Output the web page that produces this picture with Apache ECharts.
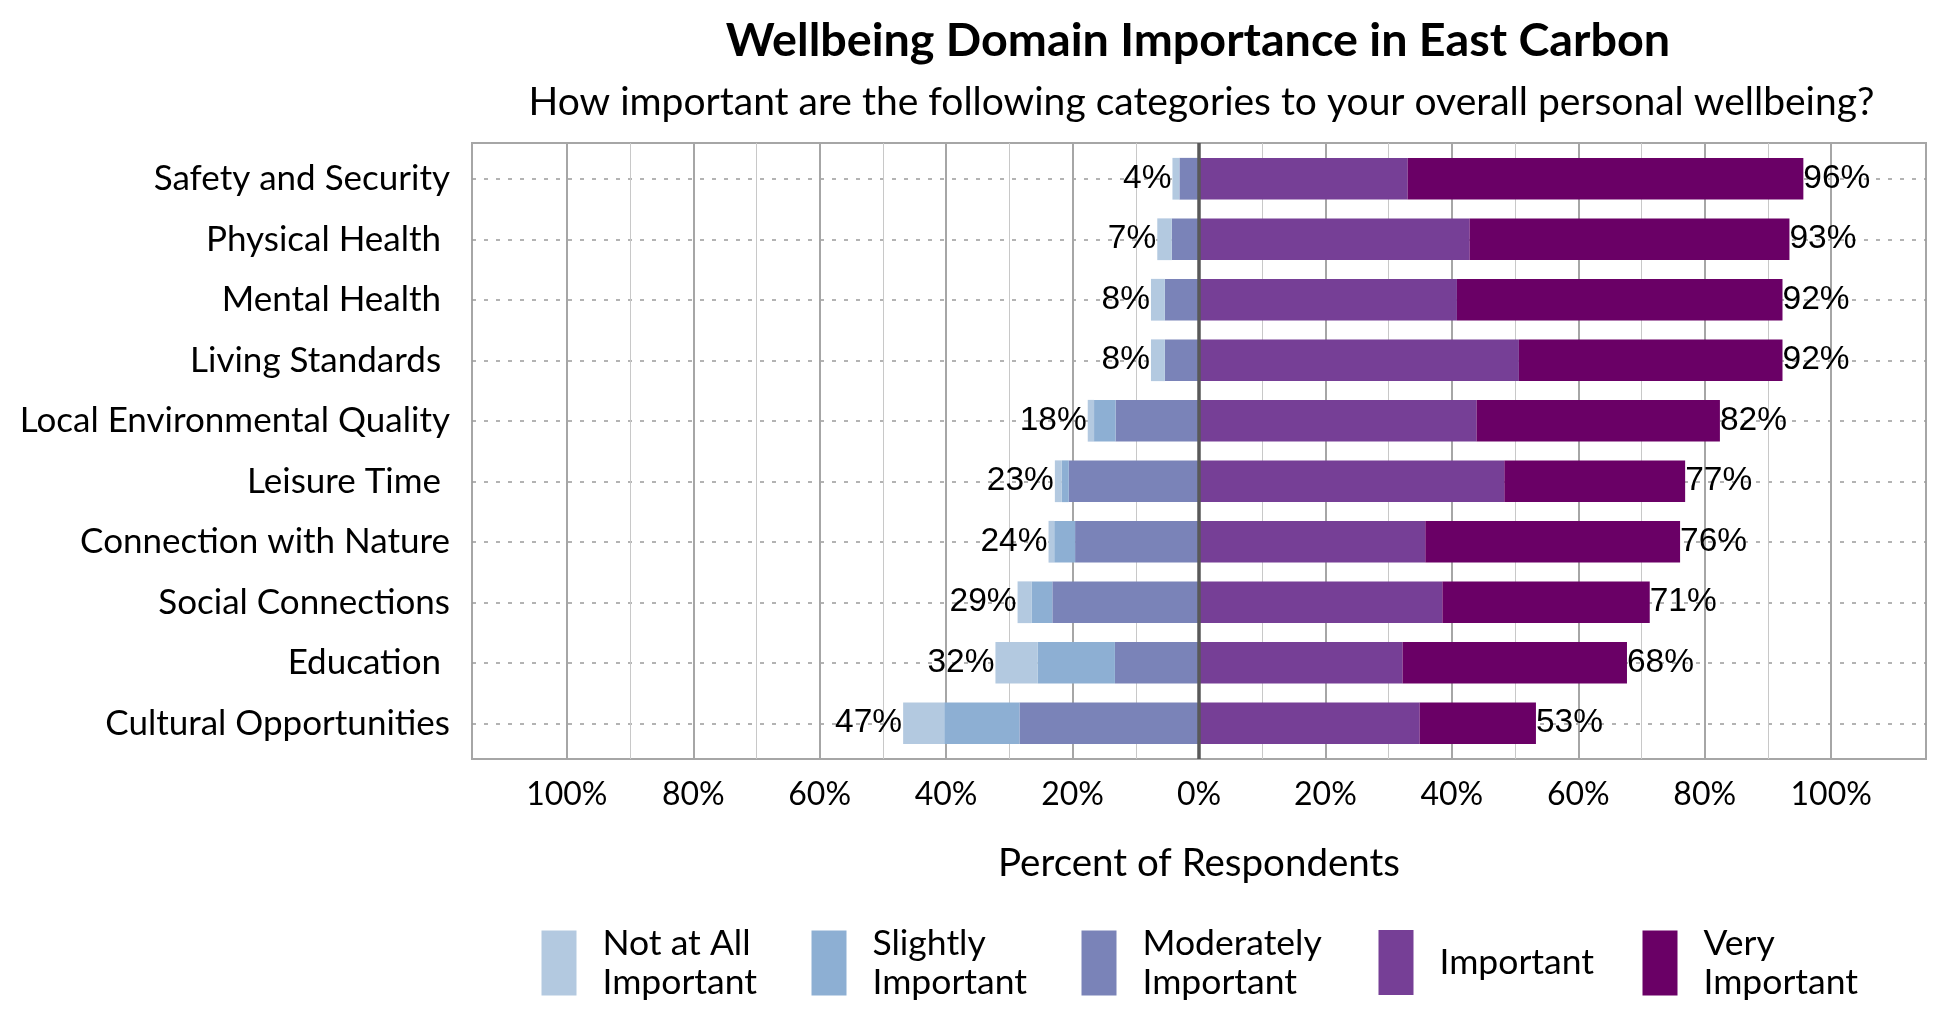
<!DOCTYPE html>
<html>
<head>
<meta charset="utf-8">
<script src="https://cdn.jsdelivr.net/npm/echarts@6/dist/echarts.min.js"></script>
<style>
html,body{margin:0;padding:0;background:#fff;}
#chart{width:1950px;height:1020px;}
</style>
</head>
<body>
<div id="chart"></div>
<script>
const titleText = 'Wellbeing Domain Importance in East Carbon';
const subtitleText = 'How important are the following categories to your overall personal wellbeing?';
const axisTitle = 'Percent of Respondents';
const categories = ['Safety and Security', 'Physical Health ', 'Mental Health ', 'Living Standards ',
  'Local Environmental Quality', 'Leisure Time ', 'Connection with Nature', 'Social Connections',
  'Education ', 'Cultural Opportunities'];
const seriesNames = ['Not at All\nImportant', 'Slightly\nImportant', 'Moderately\nImportant', 'Important', 'Very\nImportant'];
const notAtAll      = [1.1, 2.3, 2.2, 2.2, 1.0, 1.1, 0.9, 2.2, 6.7, 6.5];
const slightly      = [0.0, 0.0, 0.0, 0.0, 3.4, 1.1, 3.3, 3.3, 12.2, 11.9];
const moderately    = [3.1, 4.3, 5.4, 5.4, 13.2, 20.6, 19.6, 23.2, 13.3, 28.4];
const important     = [33.0, 42.8, 40.8, 50.6, 43.9, 48.3, 35.8, 38.5, 32.2, 34.9];
const veryImportant = [62.6, 50.6, 51.5, 41.7, 38.5, 28.6, 40.3, 32.8, 35.5, 18.4];
const majorTicks = [-100, -80, -60, -40, -20, 0, 20, 40, 60, 80, 100];
const minorTicks = [-90, -70, -50, -30, -10, 10, 30, 50, 70, 90];
const axisMin = -115, axisMax = 115, axisStep = 5;

const colors = ['#b3c9e0', '#8dafd3', '#7a83b8', '#763f96', '#6a0066'];
const FONT = 'Lato, "Open Sans", sans-serif';

const negTotals = categories.map((c, i) => notAtAll[i] + slightly[i] + moderately[i]);
const posTotals = categories.map((c, i) => important[i] + veryImportant[i]);

const tickVals = [];
for (let v = axisMin; v <= axisMax; v += axisStep) tickVals.push(v);
const majorColors = tickVals.map(v => majorTicks.includes(v) ? '#a6a6a6' : 'rgba(0,0,0,0)');
const minorColors = tickVals.map(v => minorTicks.includes(v) ? '#c8c8c8' : 'rgba(0,0,0,0)');

const labelStyle = {fontFamily: '"Liberation Sans", Arial, sans-serif', fontSize: 33.5, color: '#000'};

const neg = arr => arr.map(v => -v);
const barAxes = {xAxisIndex: 2, yAxisIndex: 1};

const series = [
  Object.assign({name: seriesNames[2], type: 'bar', stack: 'all', data: neg(moderately), barWidth: '69%',
   itemStyle: {color: colors[2]}}, barAxes),
  Object.assign({name: seriesNames[1], type: 'bar', stack: 'all', data: neg(slightly),
   itemStyle: {color: colors[1]}}, barAxes),
  Object.assign({name: seriesNames[0], type: 'bar', stack: 'all', data: neg(notAtAll),
   itemStyle: {color: colors[0]},
   label: Object.assign({show: true, position: 'left', distance: 1,
     formatter: p => Math.round(negTotals[p.dataIndex]) + '%'}, labelStyle)}, barAxes),
  Object.assign({name: seriesNames[3], type: 'bar', stack: 'all', data: important,
   itemStyle: {color: colors[3]}}, barAxes),
  Object.assign({name: seriesNames[4], type: 'bar', stack: 'all', data: veryImportant,
   itemStyle: {color: colors[4]},
   label: Object.assign({show: true, position: 'right', distance: 0,
     formatter: p => Math.round(posTotals[p.dataIndex]) + '%'}, labelStyle)}, barAxes),
  {name: 'zero', type: 'scatter', xAxisIndex: 0, yAxisIndex: 0, data: [[0, 0.5]], symbolSize: 0,
   silent: true, z: 10,
   markLine: {silent: true, symbol: 'none', z: 10, label: {show: false},
     lineStyle: {color: '#595959', width: 3.5, type: 'solid'},
     emphasis: {disabled: true},
     data: [{xAxis: 0}]}}
];

const legendLefts = [541.5, 811.5, 1081.5, 1378.5, 1642.5];
const legends = seriesNames.map((n, i) => {
  const twoLine = n.indexOf('\n') >= 0;
  return {
    data: [n], left: legendLefts[i], top: twoLine ? 918 : 930, padding: 0, orient: 'horizontal',
    itemWidth: 35, itemHeight: 65, icon: 'rect', selectedMode: false,
    textStyle: {fontFamily: FONT, fontSize: 35.5, color: '#000', lineHeight: 39,
      padding: twoLine ? [0, 0, 12, 21] : [0, 0, 0, 21]}
  };
});

const option = {
  animation: false,
  backgroundColor: '#fff',
  title: [
    {text: titleText, left: 1193, top: 12, textAlign: 'center',
     textStyle: {fontFamily: FONT, fontWeight: 'bold', fontSize: 46.7, color: '#000'}},
    {text: subtitleText, left: 1196.5, top: 77.5, textAlign: 'center',
     textStyle: {fontFamily: FONT, fontWeight: 'normal', fontSize: 39, color: '#000'}}
  ],
  legend: legends,
  grid: [
    {left: 472, right: 24, top: 143, bottom: 261, show: true,
     borderColor: '#a6a6a6', borderWidth: 2, backgroundColor: 'transparent'},
    {left: 472, right: 24, top: 148.5, bottom: 266.5, show: false}
  ],
  xAxis: [
    {type: 'value', gridIndex: 0, min: axisMin, max: axisMax, interval: axisStep, position: 'bottom',
     axisLine: {show: false}, axisTick: {show: false},
     axisLabel: {margin: 20, fontFamily: FONT, fontSize: 32, color: '#000',
       formatter: v => majorTicks.includes(v) ? Math.abs(v) + '%' : ''},
     splitLine: {show: true, lineStyle: {color: majorColors, width: 2}},
     name: axisTitle, nameLocation: 'middle', nameGap: 85,
     nameTextStyle: {fontFamily: FONT, fontSize: 38.5, color: '#000'}},
    {type: 'value', gridIndex: 0, min: axisMin, max: axisMax, interval: axisStep, position: 'top',
     axisLine: {show: false}, axisTick: {show: false}, axisLabel: {show: false},
     splitLine: {show: true, lineStyle: {color: minorColors, width: 1}}},
    {type: 'value', gridIndex: 1, min: axisMin, max: axisMax, interval: axisStep, show: false}
  ],
  yAxis: [
    {type: 'value', gridIndex: 0, min: 0, max: 1, show: false},
    {type: 'category', gridIndex: 1, data: categories, inverse: true,
     axisLine: {show: false}, axisTick: {show: false},
     axisLabel: {margin: 22, fontFamily: FONT, fontSize: 35, color: '#000'},
     splitLine: {show: true, alignWithLabel: true, lineStyle: {color: '#9a9a9a', width: 1.5, type: [4, 8]}}}
  ],
  series: series
};

const chart = echarts.init(document.getElementById('chart'), null, {renderer: 'canvas'});
chart.setOption(option);
</script>
</body>
</html>
